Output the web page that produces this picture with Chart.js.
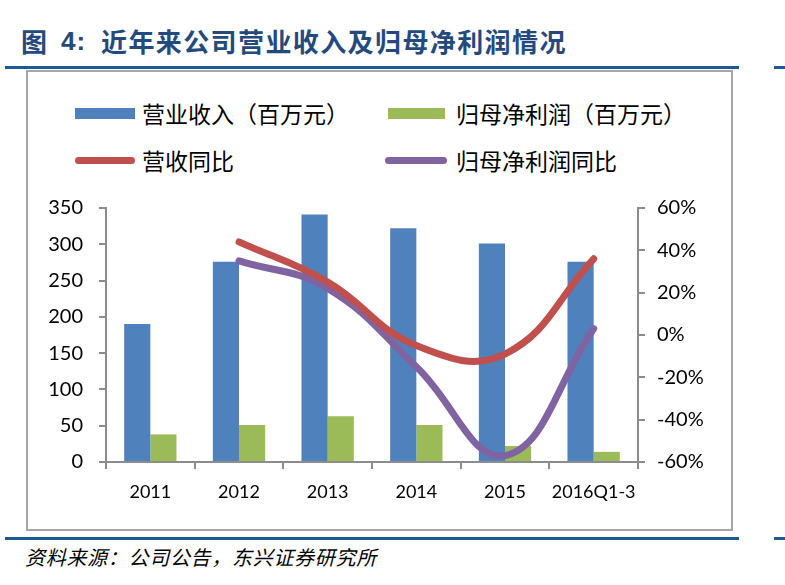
<!DOCTYPE html>
<html>
<head>
<meta charset="utf-8">
<script src="https://cdn.jsdelivr.net/npm/chart.js@4/dist/chart.umd.min.js"></script>
<style>
  html, body { margin:0; padding:0; background:#fff; }
  body { width:785px; height:585px; position:relative; overflow:hidden; font-family:"Noto Sans CJK SC", sans-serif; }
  .title { position:absolute; top:24px; font-size:26px; font-weight:bold; color:#24497D; white-space:nowrap; line-height:34px; }
  .rule { position:absolute; height:3px; background:#1F5A96; }
  .box { position:absolute; left:26px; top:70px; width:703px; height:457px; border:2px solid #A6A6A6; box-sizing:content-box; }
  .leg { position:absolute; font-size:23px; color:#000; line-height:30px; white-space:nowrap; }
  .sw { position:absolute; }
  .src { position:absolute; left:25px; top:543px; font-size:20px; font-style:italic; letter-spacing:0.7px; color:#000; white-space:nowrap; line-height:28px; }
  #wrap { position:absolute; left:27px; top:180px; width:704px; height:335px; }
</style>
</head>
<body>
<div class="title" style="left:21px;">图</div>
<div class="title" style="left:61px; font-family:'Liberation Sans', sans-serif; letter-spacing:1px;">4:</div>
<div class="title" style="left:101px; letter-spacing:1.4px;">近年来公司营业收入及归母净利润情况</div>
<div class="rule" style="left:5px; top:66px; width:734px;"></div>
<div class="rule" style="left:774px; top:66px; width:11px;"></div>
<div class="box"></div>

<div class="sw" style="left:75px; top:108px; width:60px; height:11px; background:#4F81BD;"></div>
<div class="leg" style="left:142px; top:98px;">营业收入（百万元）</div>
<div class="sw" style="left:388px; top:108px; width:57px; height:11px; background:#9BBB59;"></div>
<div class="leg" style="left:456px; top:98px;">归母净利润（百万元）</div>
<div class="sw" style="left:75px; top:157px; width:60px; height:7px; border-radius:4px; background:#C0504D;"></div>
<div class="leg" style="left:142px; top:145px;">营收同比</div>
<div class="sw" style="left:385px; top:157px; width:62px; height:7px; border-radius:4px; background:#8064A2;"></div>
<div class="leg" style="left:456px; top:145px;">归母净利润同比</div>

<div id="wrap"><canvas id="c" width="704" height="335"></canvas></div>

<div class="rule" style="left:5px; top:537px; width:734px;"></div>
<div class="rule" style="left:774px; top:537px; width:11px;"></div>
<div class="src">资料来源：公司公告，东兴证券研究所</div>

<script>
const categories = ["2011", "2012", "2013", "2014", "2015", "2016Q1-3"];
const revenue = [190, 276, 341, 322, 301, 276];
const netProfit = [38, 51, 63, 51, 22, 14];
const revenueYoY = [null, 44, 25, -5, -9, 36];
const netProfitYoY = [null, 35, 22, -15, -57, 3];
const leftTicks = [0, 50, 100, 150, 200, 250, 300, 350];
const rightTicks = [-60, -40, -20, 0, 20, 40, 60];

const axisGray = "#8C8C8C";
const tickFont = { family: "Lato", size: 20 };

new Chart(document.getElementById("c"), {
  type: "bar",
  data: {
    labels: categories,
    datasets: [
      { type: "line", label: "营收同比", data: revenueYoY, yAxisID: "y1",
        borderColor: "#C0504D", borderWidth: 7, pointRadius: 0, tension: 0.42,
        borderCapStyle: "round", borderJoinStyle: "round", fill: false, order: 0 },
      { type: "line", label: "归母净利润同比", data: netProfitYoY, yAxisID: "y1",
        borderColor: "#8064A2", borderWidth: 7, pointRadius: 0, tension: 0.42,
        borderCapStyle: "round", borderJoinStyle: "round", fill: false, order: 1 },
      { label: "营业收入（百万元）", data: revenue, yAxisID: "y",
        backgroundColor: "#4F81BD", categoryPercentage: 0.59, barPercentage: 1.0, order: 2 },
      { label: "归母净利润（百万元）", data: netProfit, yAxisID: "y",
        backgroundColor: "#9BBB59", categoryPercentage: 0.59, barPercentage: 1.0, order: 3 }
    ]
  },
  options: {
    responsive: false,
    animation: false,
    devicePixelRatio: 1,
    layout: { padding: { top: 27, left: 0, right: 0, bottom: 0 } },
    plugins: { legend: { display: false }, tooltip: { enabled: false } },
    scales: {
      x: {
        offset: true,
        grid: { display: true, offset: true, drawOnChartArea: false, tickLength: 7, color: axisGray, lineWidth: 2 },
        border: { display: true, color: axisGray, width: 2 },
        ticks: { color: "#000", font: { family: "Lato", size: 18 }, padding: 12, maxRotation: 0, autoSkip: false },
        afterFit: s => { s.height = 53; }
      },
      y: {
        position: "left",
        min: 0, max: 350,
        afterBuildTicks: s => { s.ticks = leftTicks.map(v => ({ value: v })); },
        grid: { display: true, drawOnChartArea: false, tickLength: 7, color: axisGray, lineWidth: 2 },
        border: { display: true, color: axisGray, width: 2 },
        ticks: { color: "#000", font: tickFont, padding: 16 },
        afterFit: s => { s.width = 79; }
      },
      y1: {
        position: "right",
        min: -60, max: 60,
        afterBuildTicks: s => { s.ticks = rightTicks.map(v => ({ value: v })); },
        grid: { display: true, drawOnChartArea: false, tickLength: 7, color: axisGray, lineWidth: 2 },
        border: { display: true, color: axisGray, width: 2 },
        ticks: { color: "#000", font: tickFont, padding: 12, callback: v => v + "%" },
        afterFit: s => { s.width = 93; }
      }
    }
  }
});
</script>
</body>
</html>
